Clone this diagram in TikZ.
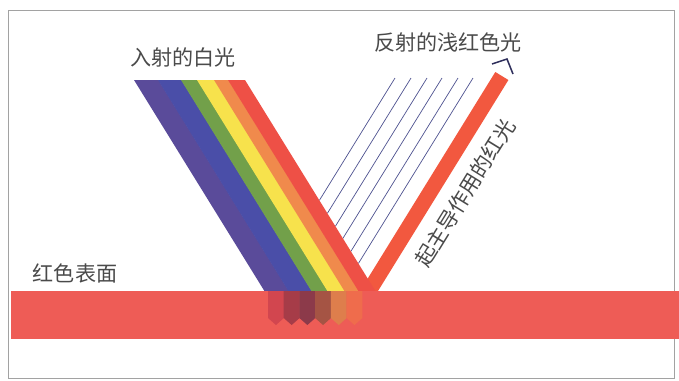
\documentclass[tikz,border=0pt]{standalone}
\usepackage{fontspec}
\newfontfamily\cjk{Noto Sans CJK SC}
\usetikzlibrary{calc}

\definecolor{framegray}{HTML}{A2A2A2}
\definecolor{txtgray}{HTML}{4A4A4A}
\definecolor{cviolet}{HTML}{5A4B9A}
\definecolor{cblue}{HTML}{4A4EA8}
\definecolor{cgreen}{HTML}{72A04A}
\definecolor{cyellow}{HTML}{F7E24C}
\definecolor{corange}{HTML}{F08A4C}
\definecolor{cred}{HTML}{EE5046}
\definecolor{crefl}{HTML}{F2583F}
\definecolor{cstrip}{HTML}{EE5C56}
\definecolor{cline}{HTML}{4E5290}
\definecolor{cnavy}{HTML}{2F2F5C}

\begin{document}
\begin{tikzpicture}[x=0.03cm, y=-0.03cm,
		lbl/.style={font=\cjk\fontsize{18}{20}\selectfont, text=txtgray, inner sep=0pt},
		ray/.style={cline, line width=0.6pt}]
			\useasboundingbox (0,0) rectangle (679,380);
			\fill[white] (0,0) rectangle (679,380);
			\draw[framegray, line width=0.6pt] (8,10) rectangle (674,378);

			\node[lbl] at (183,57) (incident) {入射的白光};
			\node[lbl] at (448,42) (reflected) {反射的浅红色光};
			\node[lbl] at (75,273) (surface) {红色表面};
			\node[lbl, rotate=58.3] at (465,193) (dominant) {起主导作用的红光};

			\foreach \x in {395,411,427,442,458,473} {
				\pgfmathsetmacro\ye{(\x-147.4)/1.236}
				\pgfmathsetmacro\xe{\x-0.618*(\ye-78)}
				\draw[ray] (\x,78) -- (\xe,\ye);
			}

			\fill[crefl] (360,291) -- (378,291) -- (508.4,80) -- (495.3,72) -- cycle;
			\draw[cnavy, line width=1.3pt] (492,64) -- (507,59) -- (513,74);

			\foreach \a/\b/\c in {134/158.5/cviolet, 158/181.5/cblue, 181/197.5/cgreen,
					197/214.5/cyellow, 214/228.5/corange, 228/245/cred}
				\fill[\c] (\a,80) -- (\b,80) -- ++(130.4,211) -- (\a+130.4,291) -- cycle;

			\fill[cstrip] (11,291) rectangle (679,339);

			\foreach \a/\c in {268/D2464F, 283.7/A63C48, 299.4/8C3A4A, 315.1/A55444, 330.8/DE7E4C, 346.5/EF6C4C} {
				\definecolor{seg}{HTML}{\c}
				\fill[seg] (\a,291) -- ++(15.9,0) -- ++(0,27) -- ++(-7.95,7) -- ++(-7.95,-7) -- cycle;
			}
		\end{tikzpicture}
\end{document}
